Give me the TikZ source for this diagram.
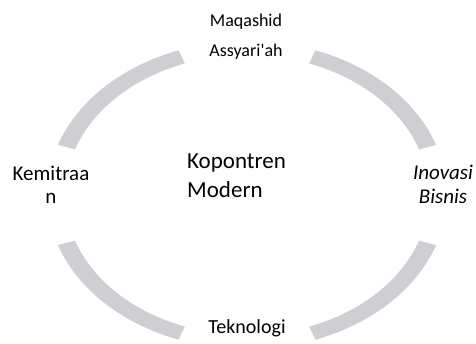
\documentclass[tikz,border=0pt]{standalone}
\usepackage{fontspec}
\setmainfont{Carlito}[Ligatures=TeXOff]
\usetikzlibrary{calc}
\definecolor{arcgray}{RGB}{206,207,211}
\tikzset{
  lbl/.style={anchor=base, inner sep=0pt, text=black},
  arcband/.style={fill=arcgray, draw=none}
}
\begin{document}
\begin{tikzpicture}[x=1pt,y=1pt]
\useasboundingbox (0,0) rectangle (476,343);
\coordinate (c) at (247,148);
\foreach \s/\e in {19/70,110/161,199/250,290/341}{
  \fill[arcband] ($(c)+(\s:200 and 154)$) arc[start angle=\s,end angle=\e,x radius=200,y radius=154]
    -- ($(c)+(\e:182 and 140)$) arc[start angle=\e,end angle=\s,x radius=182,y radius=140] -- cycle;
}
\node[lbl] (maq) at (246,316) {\fontsize{18}{20}\selectfont Maqashid};
\node[lbl] (ass) at (246,286) {\fontsize{18}{20}\selectfont Assyari'ah};
\node[lbl] (kem1) at (51,163) {\fontsize{21}{23}\selectfont Kemitraa};
\node[lbl] (kem2) at (51,140) {\fontsize{21}{23}\selectfont n};
\node[lbl] (ino1) at (443,164) {\fontsize{21}{23}\selectfont\itshape Inovasi};
\node[lbl] (ino2) at (443,140) {\fontsize{21}{23}\selectfont\itshape Bisnis};
\node[lbl, anchor=base west] (kop1) at (187,175) {\fontsize{23}{26}\selectfont Kopontren};
\node[lbl, anchor=base west] (kop2) at (187,146) {\fontsize{23}{26}\selectfont Modern};
\node[lbl] (tek) at (247,10) {\fontsize{20}{22}\selectfont Teknologi};
\end{tikzpicture}
\end{document}
